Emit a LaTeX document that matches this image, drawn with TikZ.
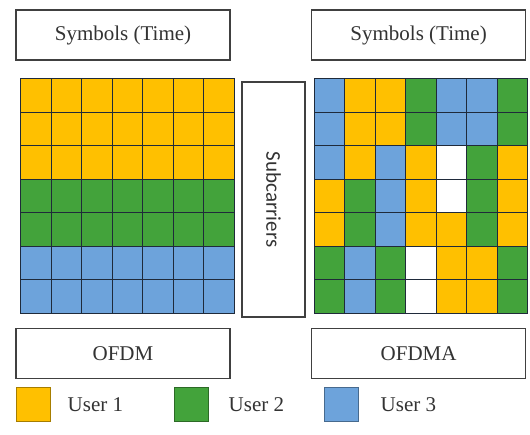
\documentclass[tikz,border=0pt]{standalone}
\usepackage{fontspec}
\setmainfont{Liberation Serif}
\newfontfamily\calfont{Carlito}
\usetikzlibrary{positioning}
\definecolor{ua}{HTML}{FFC000}
\definecolor{ub}{HTML}{43A33B}
\definecolor{uc}{HTML}{6DA3DB}
\definecolor{un}{HTML}{FFFFFF}
\definecolor{gridc}{HTML}{1F2A3A}
\tikzset{labelbox/.style={draw=black!75,line width=1.6pt,fill=white,minimum width=214pt,minimum height=50pt,text=black!80,font=\fontsize{21}{25}\selectfont}}
\tikzset{cell/.style={draw=gridc,line width=1.3pt,minimum width=30.5pt,minimum height=33.5pt,inner sep=0pt,anchor=north west}}
\tikzset{key/.style={draw=#1!65!black,fill=#1,line width=1pt,minimum size=34pt,inner sep=0pt}}
\tikzset{keytext/.style={text=black!80,font=\fontsize{21}{25}\selectfont,inner sep=0pt}}

\begin{document}
\begin{tikzpicture}[x=1pt,y=-1pt]
    \useasboundingbox (0,0) rectangle (530,434);
    % headers
    \node[labelbox] (symL) at (123,35) {Symbols (Time)};
    \node[labelbox,right=80pt of symL] (symR) {Symbols (Time)};
    % OFDM grid
    \foreach \row [count=\r from 0] in {ua,ua,ua,ub,ub,uc,uc}
        \foreach \c in {0,...,6}
            \node[cell,fill=\row] (ofdm-\r-\c) at (20+30.5*\c,78+33.5*\r) {};
    % OFDMA grid
    \foreach \row [count=\r from 0] in {{uc,ua,ua,ub,uc,uc,ub},{uc,ua,ua,ub,uc,uc,ub},{uc,ua,uc,ua,un,ub,ua},{ua,ub,uc,ua,un,ub,ua},{ua,ub,uc,ua,ua,ub,ua},{ub,uc,ub,un,ua,ua,ub},{ub,uc,ub,un,ua,ua,ub}}
        \foreach \col [count=\c from 0] in \row
            \node[cell,fill=\col] (ofdma-\r-\c) at (313.5+30.5*\c,78+33.5*\r) {};
    % subcarriers
    \node[draw=black!75,line width=1.6pt,rotate=-90,minimum width=235pt,minimum height=63pt,text=black!80,font=\calfont\fontsize{21}{25}\selectfont] (sub) at (273.5,199.5) {Subcarriers};
    % scheme names
    \node[labelbox] (nameL) at (123,353.5) {OFDM};
    \node[labelbox,right=80pt of nameL] (nameR) {OFDMA};
    % legend
    \node[key=ua] (k1) at (33,404.5) {};
    \node[keytext,right=17pt of k1] (t1) {User 1};
    \node[key=ub] (k2) at (191,404.5) {};
    \node[keytext,right=20pt of k2] (t2) {User 2};
    \node[key=uc] (k3) at (341,404.5) {};
    \node[keytext,right=22pt of k3] (t3) {User 3};
\end{tikzpicture}
\end{document}
